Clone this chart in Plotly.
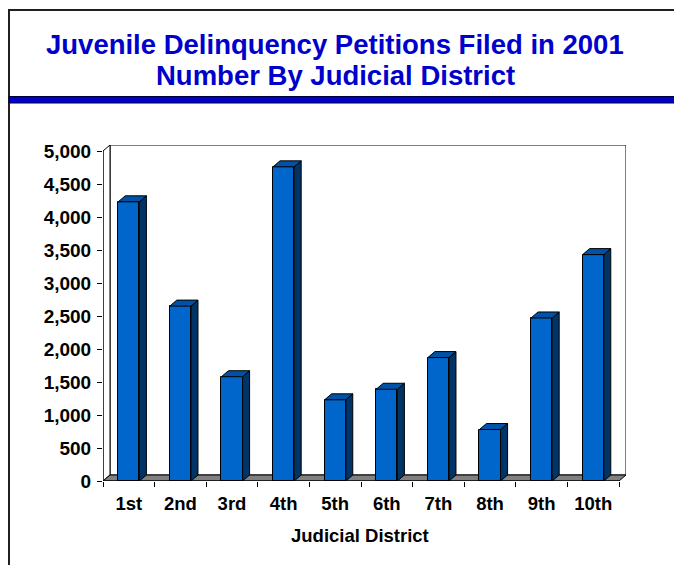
import plotly.graph_objects as go

# ---- data ----
districts = ["1st", "2nd", "3rd", "4th", "5th", "6th", "7th", "8th", "9th", "10th"]
petitions = [4230, 2650, 1580, 4760, 1230, 1390, 1870, 780, 2470, 3430]
y_tick_values = [0, 500, 1000, 1500, 2000, 2500, 3000, 3500, 4000, 4500, 5000]
y_tick_labels = ["0", "500", "1,000", "1,500", "2,000", "2,500", "3,000", "3,500", "4,000", "4,500", "5,000"]
title_line1 = "Juvenile Delinquency Petitions Filed in 2001"
title_line2 = "Number By Judicial District"
x_title = "Judicial District"

# ---- geometry / style ----
W, H = 674, 565
ML, MR, MT, MB = 103, 48, 145, 84
plot_w = W - ML - MR
plot_h = H - MT - MB
n = len(districts)
Y_MAX = 5000
DEPTH_PX_X, DEPTH_PX_Y = 7, 6
cat_px = (plot_w - DEPTH_PX_X) / n
DX = DEPTH_PX_X / cat_px
y_px = (plot_h - DEPTH_PX_Y) / Y_MAX
DY = DEPTH_PX_Y / y_px
BAR_W = 0.41
FRONT = "#0066CC"
TOP = "#0052A6"
SIDE = "#003366"
FONT = "Liberation Sans, Arial, sans-serif"

xs = list(range(n))

# side faces & top faces computed from the data
side_x, side_y, top_x, top_y = [], [], [], []
for x, v in zip(xs, petitions):
    r = x + BAR_W / 2
    l = x - BAR_W / 2
    side_x += [r, r + DX, r + DX, r, r, None]
    side_y += [0, DY, v + DY, v, 0, None]
    top_x += [l, r, r + DX, l + DX, l, None]
    top_y += [v, v, v + DY, v + DY, v, None]

fig = go.Figure()
fig.add_trace(go.Bar(x=xs, y=petitions, width=BAR_W, marker=dict(color=FRONT, line=dict(color="black", width=1)),
                     hoverinfo="skip", showlegend=False))
fig.add_trace(go.Scatter(x=side_x, y=side_y, mode="lines", fill="toself", fillcolor=SIDE,
                         line=dict(color="black", width=1), hoverinfo="skip", showlegend=False))
fig.add_trace(go.Scatter(x=top_x, y=top_y, mode="lines", fill="toself", fillcolor=TOP,
                         line=dict(color="black", width=1), hoverinfo="skip", showlegend=False))

x0, x1 = -0.5, n - 0.5
shapes = []
# back wall
shapes.append(dict(type="rect", xref="x", yref="y", x0=x0 + DX, x1=x1 + DX, y0=DY, y1=Y_MAX + DY,
                   fillcolor="white", line=dict(color="black", width=1), layer="below"))
# left wall
shapes.append(dict(type="path", xref="x", yref="y",
                   path=f"M{x0},0 L{x0 + DX},{DY} L{x0 + DX},{Y_MAX + DY} L{x0},{Y_MAX} Z",
                   fillcolor="white", line=dict(color="black", width=1), layer="below"))
# floor
shapes.append(dict(type="path", xref="x", yref="y",
                   path=f"M{x0},0 L{x1},0 L{x1 + DX},{DY} L{x0 + DX},{DY} Z",
                   fillcolor="#808080", line=dict(color="black", width=1), layer="below"))
# y axis line
shapes.append(dict(type="line", xref="x", yref="y", x0=x0, x1=x0, y0=0, y1=Y_MAX,
                   line=dict(color="black", width=1), layer="above"))
# front floor edge
shapes.append(dict(type="line", xref="x", yref="y", x0=x0, x1=x1, y0=0, y1=0,
                   line=dict(color="black", width=1), layer="above"))


def px_x(p):
    return (p - ML) / plot_w


def px_y(p):
    return (H - MB - p) / plot_h


# outer frame
shapes.append(dict(type="rect", xref="paper", yref="paper", x0=px_x(9), x1=px_x(W + 10),
                   y0=px_y(H + 10), y1=px_y(10), line=dict(color="#202020", width=2), fillcolor="rgba(0,0,0,0)",
                   layer="below"))
# blue band
shapes.append(dict(type="rect", xref="paper", yref="paper", x0=px_x(9), x1=px_x(W + 10),
                   y0=px_y(103), y1=px_y(96.5), line=dict(color="#000033", width=1), fillcolor="#0000CC",
                   layer="above"))

annotations = [
    dict(text=f"<b>{title_line1}</b>", xref="paper", yref="paper", x=px_x(335), y=px_y(45),
         xanchor="center", yanchor="middle", showarrow=False, font=dict(family=FONT, size=27.5, color="#0000CC")),
    dict(text=f"<b>{title_line2}</b>", xref="paper", yref="paper", x=px_x(335), y=px_y(75),
         xanchor="center", yanchor="middle", showarrow=False, font=dict(family=FONT, size=27.5, color="#0000CC")),
    dict(text=f"<b>{x_title}</b>", xref="paper", yref="paper", x=px_x(360), y=px_y(535),
         xanchor="center", yanchor="middle", showarrow=False, font=dict(family=FONT, size=18.5, color="black")),
]

fig.update_layout(
    width=W, height=H,
    margin=dict(l=ML, r=MR, t=MT, b=MB, pad=0),
    paper_bgcolor="white", plot_bgcolor="white",
    shapes=shapes, annotations=annotations,
    bargap=0,
    xaxis=dict(range=[x0, x1 + DX], tickmode="array", tickvals=xs, ticktext=[f"<b>{d}</b>" for d in districts],
               ticks="", showgrid=False, zeroline=False, showline=False,
               ticklabelstandoff=9,
               tickfont=dict(family=FONT, size=18.5, color="black"),
               minor=dict(tickmode="array", tickvals=[i - 0.5 for i in range(n + 1)], ticks="outside",
                          ticklen=5, tickcolor="black", tickwidth=1, showgrid=False)),
    yaxis=dict(range=[0, Y_MAX + DY], tickmode="array", tickvals=y_tick_values,
               ticktext=[f"<b>{t}</b>" for t in y_tick_labels], ticks="outside", ticklen=5, tickcolor="black",
               ticklabelstandoff=2,
               showgrid=False, zeroline=False, showline=False,
               tickfont=dict(family=FONT, size=19, color="black")),
)

fig.write_html("out.html", config={"displayModeBar": False},
               post_script="document.body.style.margin='0';document.body.style.overflow='hidden';")
